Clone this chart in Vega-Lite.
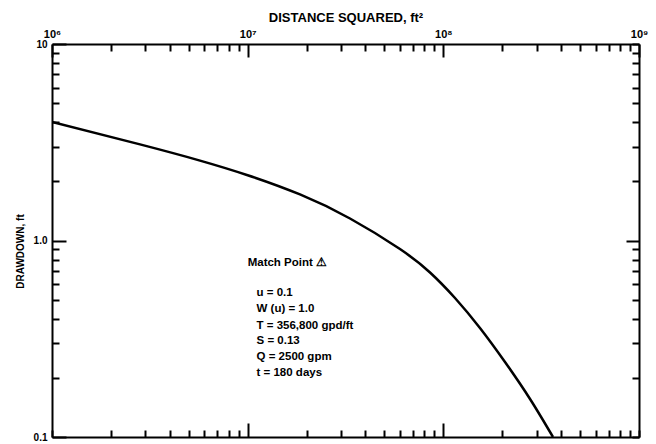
{
  "$schema": "https://vega.github.io/schema/vega-lite/v6.json",
  "autosize": {"type": "none"},
  "padding": {"left": 52, "top": 44, "right": 17, "bottom": 7},
  "width": 587,
  "height": 393,
  "background": "white",
  "config": {
    "view": {"stroke": null},
    "axis": {
      "grid": false,
      "domainColor": "black",
      "domainWidth": 2,
      "tickColor": "black",
      "tickWidth": 2,
      "labelColor": "black",
      "labelFont": "Liberation Sans",
      "labelFontWeight": "bold",
      "labelFontSize": 10,
      "titleFont": "Liberation Sans",
      "titleFontWeight": "bold",
      "titleFontSize": 10,
      "titleColor": "black",
      "labelFlush": false,
      "labelOverlap": false
    }
  },
  "datasets": {
    "curve": [
      {"r2": 1000000, "s": 4.01},
      {"r2": 2817000, "s": 3.084},
      {"r2": 5707000, "s": 2.551},
      {"r2": 10000000, "s": 2.149},
      {"r2": 18510000, "s": 1.715},
      {"r2": 33340000, "s": 1.294},
      {"r2": 60030000, "s": 0.905},
      {"r2": 85500000, "s": 0.6875},
      {"r2": 114700000, "s": 0.5098},
      {"r2": 153900000, "s": 0.3587},
      {"r2": 206600000, "s": 0.2408},
      {"r2": 277400000, "s": 0.1561},
      {"r2": 363400000, "s": 0.1}
    ],
    "notes": [
      {"r2": 10000000, "s": 0.768, "label": "Match Point ⚠"},
      {"r2": 11100000, "s": 0.541, "label": "u = 0.1"},
      {"r2": 11100000, "s": 0.446, "label": "W (u) = 1.0"},
      {"r2": 11100000, "s": 0.369, "label": "T = 356,800 gpd/ft"},
      {"r2": 11100000, "s": 0.308, "label": "S = 0.13"},
      {"r2": 11100000, "s": 0.255, "label": "Q = 2500 gpm"},
      {"r2": 11100000, "s": 0.212, "label": "t = 180 days"}
    ]
  },
  "layer": [
    {
      "data": {"name": "curve"},
      "mark": {"type": "line", "color": "black", "strokeWidth": 2.5, "interpolate": "natural", "clip": true},
      "encoding": {
        "x": {
          "field": "r2", "type": "quantitative",
          "scale": {"type": "log", "domain": [1000000, 1000000000], "nice": false},
          "axis": {
            "orient": "top",
            "title": "DISTANCE SQUARED, ft²",
            "titleFontSize": 13,
            "titleY": -27,
            "titleBaseline": "middle",
            "values": [1000000, 2000000, 3000000, 4000000, 5000000, 6000000, 7000000, 8000000, 9000000, 10000000, 20000000, 30000000, 40000000, 50000000, 60000000, 70000000, 80000000, 90000000, 100000000, 200000000, 300000000, 400000000, 500000000, 600000000, 700000000, 800000000, 900000000, 1000000000],
            "labelExpr": "datum.value == 1000000 ? '10⁶' : datum.value == 10000000 ? '10⁷' : datum.value == 100000000 ? '10⁸' : datum.value == 1000000000 ? '10⁹' : ''",
            "labelFontSize": 11,
            "tickSize": {"condition": {"test": "datum.value == 1000000 || datum.value == 10000000 || datum.value == 100000000 || datum.value == 1000000000", "value": -13}, "value": -7},
            "labelPadding": 18
          }
        },
        "y": {
          "field": "s", "type": "quantitative",
          "scale": {"type": "log", "domain": [0.1, 10], "nice": false},
          "axis": {
            "orient": "left",
            "title": "DRAWDOWN, ft",
            "titleX": -32,
            "titleY": 207,
            "titleAngle": 270,
            "titleBaseline": "middle",
            "titleAlign": "center",
            "values": [0.1, 0.2, 0.3, 0.4, 0.5, 0.6, 0.7, 0.8, 0.9, 1, 2, 3, 4, 5, 6, 7, 8, 9, 10],
            "labelExpr": "datum.value == 10 ? '10' : datum.value == 1 ? '1.0' : datum.value == 0.1 ? '0.1' : ''",
            "tickSize": {"condition": {"test": "datum.value == 0.1 || datum.value == 1 || datum.value == 10", "value": -14}, "value": -7},
            "labelPadding": 19
          }
        }
      }
    },
    {
      "data": {"name": "notes"},
      "mark": {"type": "text", "align": "left", "baseline": "middle", "font": "Liberation Sans", "fontWeight": "bold", "fontSize": 11.5, "color": "black"},
      "encoding": {
        "x": {
          "field": "r2", "type": "quantitative",
          "scale": {"type": "log", "domain": [1000000, 1000000000], "nice": false},
          "axis": {
            "orient": "bottom",
            "title": null,
            "labels": false,
            "values": [1000000, 2000000, 3000000, 4000000, 5000000, 6000000, 7000000, 8000000, 9000000, 10000000, 20000000, 30000000, 40000000, 50000000, 60000000, 70000000, 80000000, 90000000, 100000000, 200000000, 300000000, 400000000, 500000000, 600000000, 700000000, 800000000, 900000000, 1000000000],
            "tickSize": {"condition": {"test": "datum.value == 10000000 || datum.value == 100000000", "value": -14}, "value": -7}
          }
        },
        "y": {
          "field": "s", "type": "quantitative",
          "scale": {"type": "log", "domain": [0.1, 10], "nice": false},
          "axis": {
            "orient": "right",
            "title": null,
            "labels": false,
            "values": [0.1, 0.2, 0.3, 0.4, 0.5, 0.6, 0.7, 0.8, 0.9, 1, 2, 3, 4, 5, 6, 7, 8, 9, 10],
            "tickSize": {"condition": {"test": "datum.value == 1", "value": -13}, "value": -7}
          }
        },
        "text": {"field": "label"}
      }
    }
  ],
  "resolve": {"axis": {"x": "independent", "y": "independent"}}
}
